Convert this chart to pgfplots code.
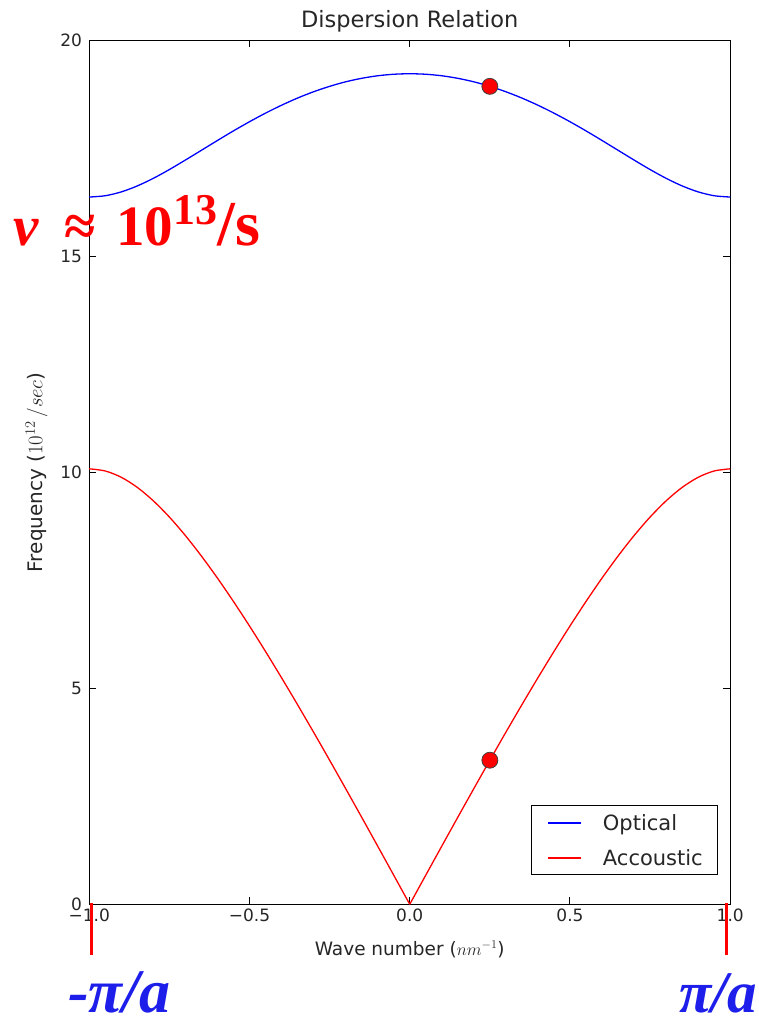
\documentclass[border=0pt]{standalone}
\usepackage{pgfplots}
\pgfplotsset{compat=1.18}
\usepackage{pgfplotstable}
\usepackage{fontspec}
\setmainfont{DejaVu Sans}
\newfontfamily\timesfont{Liberation Serif}
\definecolor{mplblue}{RGB}{0,0,255}
\definecolor{mplred}{RGB}{255,0,0}
\definecolor{annblue}{RGB}{30,30,235}

% optical branch
\pgfplotstableread{
k      f
-1.00  16.371
-0.95  16.401
-0.90  16.490
-0.85  16.628
-0.80  16.804
-0.75  17.007
-0.70  17.227
-0.65  17.453
-0.60  17.680
-0.55  17.902
-0.50  18.114
-0.45  18.313
-0.40  18.496
-0.35  18.662
-0.30  18.808
-0.25  18.933
-0.20  19.038
-0.15  19.119
-0.10  19.178
-0.05  19.213
 0.00  19.225
 0.05  19.213
 0.10  19.178
 0.15  19.119
 0.20  19.038
 0.25  18.933
 0.30  18.808
 0.35  18.662
 0.40  18.496
 0.45  18.313
 0.50  18.114
 0.55  17.902
 0.60  17.680
 0.65  17.453
 0.70  17.227
 0.75  17.007
 0.80  16.804
 0.85  16.628
 0.90  16.490
 0.95  16.401
 1.00  16.371
}\optical

% acoustic branch
\pgfplotstableread{
k      f
-1.00  10.080
-0.95  10.030
-0.90  9.884
-0.85  9.650
-0.80  9.339
-0.75  8.964
-0.70  8.535
-0.65  8.061
-0.60  7.551
-0.55  7.009
-0.50  6.442
-0.45  5.852
-0.40  5.244
-0.35  4.620
-0.30  3.983
-0.25  3.335
-0.20  2.678
-0.15  2.015
-0.10  1.346
-0.05  0.674
 0.00  0.000
 0.05  0.674
 0.10  1.346
 0.15  2.015
 0.20  2.678
 0.25  3.335
 0.30  3.983
 0.35  4.620
 0.40  5.244
 0.45  5.852
 0.50  6.442
 0.55  7.009
 0.60  7.551
 0.65  8.061
 0.70  8.535
 0.75  8.964
 0.80  9.339
 0.85  9.650
 0.90  9.884
 0.95  10.030
 1.00  10.080
}\acoustic

\begin{document}
\begin{tikzpicture}
\begin{axis}[
    width=641pt, height=864pt, scale only axis,
    xmin=-1, xmax=1, ymin=0, ymax=20,
    xtick={-1,-0.5,0,0.5,1},
    xticklabels={−1.0,−0.5,0.0,0.5,1.0},
    ytick={0,5,10,15,20},
    yticklabels={0,5,10,15,20},
    tick pos=both, xticklabel pos=lower, yticklabel pos=left,
    tick align=inside, major tick length=7pt,
    every tick/.style={black, line width=1pt},
    axis line style={black, line width=1.2pt},
    tick label style={font=\fontsize{17}{17}\selectfont, text=black!85},
    xticklabel style={inner sep=0pt, yshift=-4pt},
    yticklabel style={inner sep=0pt, xshift=-7pt},
    title={Dispersion Relation},
    title style={at={(rel axis cs:0.5,1.008)}, anchor=base, font=\fontsize{22.5}{22.5}\selectfont, text=black!85, inner sep=0pt},
    xlabel={Wave number ($nm^{-1}$)},
    xlabel style={at={(rel axis cs:0.5,-0.059)}, anchor=base, font=\fontsize{18.5}{18.5}\selectfont, text=black!85, inner sep=0pt},
    ylabel={Frequency ($10^{12}\,/sec$)},
    ylabel style={at={(rel axis cs:-0.073,0.5)}, anchor=base, font=\fontsize{20}{20}\selectfont, text=black!85, inner sep=0pt},
    clip=false,
]
\addplot[mplblue, line width=1.3pt, no marks, smooth, tension=0.5] table[x=k, y=f] {\optical};
\addplot[mplred, line width=1.3pt, no marks, smooth, tension=0.5, restrict x to domain=-1.01:0.001] table[x=k, y=f] {\acoustic};
\addplot[mplred, line width=1.3pt, no marks, smooth, tension=0.5, restrict x to domain=-0.001:1.01] table[x=k, y=f] {\acoustic};
\addplot[only marks, mark=*, mark size=8pt, mark options={fill=mplred, draw=black!75, line width=0.8pt}]
    coordinates {(0.25,18.933) (0.25,3.335)};

% legend box
\draw[black, line width=1pt, fill=white] (rel axis cs:0.6906,0.0339) rectangle (rel axis cs:0.9808,0.1149);
\draw[mplblue, line width=1.3pt] (rel axis cs:0.7156,0.0941) -- (rel axis cs:0.7671,0.0941);
\draw[mplred, line width=1.3pt] (rel axis cs:0.7156,0.0536) -- (rel axis cs:0.7671,0.0536);
\node[anchor=base west, inner sep=0pt, text=black!85, font=\fontsize{21}{21}\selectfont]
    at (rel axis cs:0.8011,0.0854) {Optical};
\node[anchor=base west, inner sep=0pt, text=black!85, font=\fontsize{21}{21}\selectfont]
    at (rel axis cs:0.8011,0.0449) {Accoustic};

% zone-edge markers and annotations
\draw[mplred, line width=3pt] (rel axis cs:0.0037,0.002) -- (rel axis cs:0.0037,-0.0587);
\draw[mplred, line width=3pt] (rel axis cs:0.9944,0.002) -- (rel axis cs:0.9944,-0.0587);
\node[anchor=base west, inner sep=0pt, text=mplred, font=\timesfont\bfseries\fontsize{57}{57}\selectfont]
    at (rel axis cs:-0.119,0.762) {\textit{ν}\hspace{26pt}≈\hspace{20pt}10\raisebox{21pt}{\fontsize{44}{44}\selectfont 13}{\fontsize{64}{64}\selectfont/s}};
\node[anchor=base west, inner sep=0pt, text=annblue, font=\timesfont\bfseries\itshape\fontsize{62}{62}\selectfont]
    at (rel axis cs:-0.0332,-0.1258) {-π/a};
\node[anchor=base west, inner sep=0pt, text=annblue, font=\timesfont\bfseries\itshape\fontsize{59}{59}\selectfont]
    at (rel axis cs:0.9200,-0.1258) {π/a};

\coordinate (bbsw) at (rel axis cs:-0.1392,-0.1374);
\coordinate (bbne) at (rel axis cs:1.0448,1.0466);
\end{axis}
\pgfresetboundingbox
\useasboundingbox (bbsw) rectangle (bbne);
\end{tikzpicture}
\end{document}
